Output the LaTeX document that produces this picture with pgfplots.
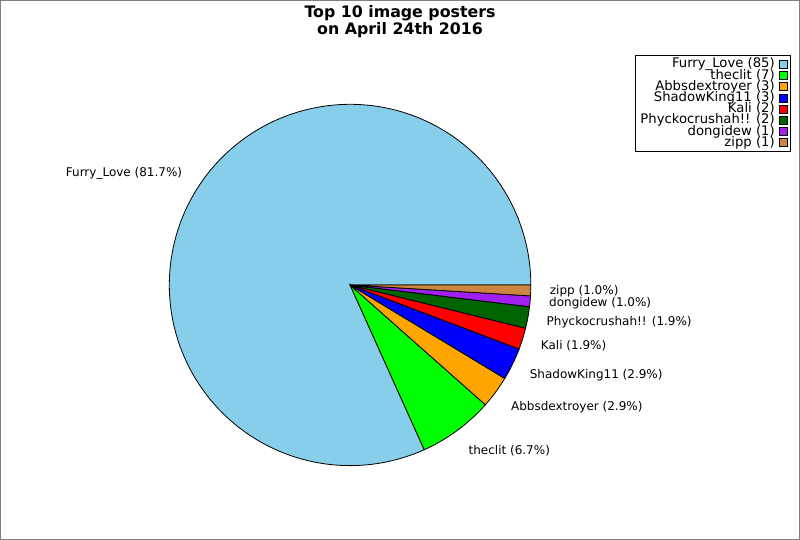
\documentclass[border=0pt]{standalone}
\usepackage{fontspec}
\setmainfont{DejaVu Sans}
\usepackage{pgfplots}
\pgfplotsset{compat=1.18}
\definecolor{c1}{HTML}{87CEEB}
\definecolor{c2}{HTML}{00FF00}
\definecolor{c3}{HTML}{FFA500}
\definecolor{c4}{HTML}{0000FF}
\definecolor{c5}{HTML}{FF0000}
\definecolor{c6}{HTML}{006400}
\definecolor{c7}{HTML}{A020F0}
\definecolor{c8}{HTML}{CD853F}
\newcommand{\lblfont}{\fontsize{12}{12}\selectfont}
\begin{document}
\begin{tikzpicture}
\begin{axis}[
  width=799pt, height=539pt, scale only axis,
  xmin=0, xmax=800, ymin=0, ymax=540,
  xtick=\empty, ytick=\empty,
  axis line style={draw=gray, line width=1pt},
  clip=false,
  legend plot pos=right,
  legend image code/.code={\draw[#1, draw=black, line width=0.8pt] (0pt,-4pt) rectangle (8pt,4pt);},
  legend style={at={(axis cs:791,485)}, anchor=north east, draw=black, line width=1pt,
    font=\fontsize{13.2}{11}\selectfont, cells={anchor=east}, inner xsep=2pt, inner ysep=3pt, row sep=0pt, column sep=2pt,
    nodes={inner xsep=2.5pt, inner ysep=0pt, text height=9pt, text depth=2.2pt}},
]
% counts: 85, 7, 3, 3, 2, 2, 1, 1 (total 104)
\addplot[fill=c1, draw=black, line width=0.8pt, domain={0}:{85*360/104}, samples=150, variable=\t]
  ({350+181*cos(t)},{255+181*sin(t)}) -- (axis cs:350,255) -- cycle;
\addlegendentry{Furry\_Love (85)}
\addplot[fill=c2, draw=black, line width=0.8pt, domain={85*360/104}:{92*360/104}, samples=20, variable=\t]
  ({350+181*cos(t)},{255+181*sin(t)}) -- (axis cs:350,255) -- cycle;
\addlegendentry{theclit (7)}
\addplot[fill=c3, draw=black, line width=0.8pt, domain={92*360/104}:{95*360/104}, samples=10, variable=\t]
  ({350+181*cos(t)},{255+181*sin(t)}) -- (axis cs:350,255) -- cycle;
\addlegendentry{Abbsdextroyer (3)}
\addplot[fill=c4, draw=black, line width=0.8pt, domain={95*360/104}:{98*360/104}, samples=10, variable=\t]
  ({350+181*cos(t)},{255+181*sin(t)}) -- (axis cs:350,255) -- cycle;
\addlegendentry{ShadowKing11 (3)}
\addplot[fill=c5, draw=black, line width=0.8pt, domain={98*360/104}:{100*360/104}, samples=8, variable=\t]
  ({350+181*cos(t)},{255+181*sin(t)}) -- (axis cs:350,255) -- cycle;
\addlegendentry{Kali (2)}
\addplot[fill=c6, draw=black, line width=0.8pt, domain={100*360/104}:{102*360/104}, samples=8, variable=\t]
  ({350+181*cos(t)},{255+181*sin(t)}) -- (axis cs:350,255) -- cycle;
\addlegendentry{Phyckocrushah!! (2)}
\addplot[fill=c7, draw=black, line width=0.8pt, domain={102*360/104}:{103*360/104}, samples=6, variable=\t]
  ({350+181*cos(t)},{255+181*sin(t)}) -- (axis cs:350,255) -- cycle;
\addlegendentry{dongidew (1)}
\addplot[fill=c8, draw=black, line width=0.8pt, domain={103*360/104}:{104*360/104}, samples=6, variable=\t]
  ({350+181*cos(t)},{255+181*sin(t)}) -- (axis cs:350,255) -- cycle;
\addlegendentry{zipp (1)}

\node[anchor=east, inner sep=0pt, font=\lblfont] at (axis cs:{350+200*cos(42.5*360/104)},{255+206*sin(42.5*360/104)}) {Furry\_Love (81.7\%)};
\node[anchor=west, inner sep=0pt, font=\lblfont] at (axis cs:{350+200*cos(88.5*360/104)},{255+206*sin(88.5*360/104)}) {theclit (6.7\%)};
\node[anchor=west, inner sep=0pt, font=\lblfont] at (axis cs:{350+200*cos(93.5*360/104)},{255+206*sin(93.5*360/104)}) {Abbsdextroyer (2.9\%)};
\node[anchor=west, inner sep=0pt, font=\lblfont] at (axis cs:{350+200*cos(96.5*360/104)},{255+206*sin(96.5*360/104)}) {ShadowKing11 (2.9\%)};
\node[anchor=west, inner sep=0pt, font=\lblfont] at (axis cs:{350+200*cos(99*360/104)},{255+206*sin(99*360/104)}) {Kali (1.9\%)};
\node[anchor=west, inner sep=0pt, font=\lblfont] at (axis cs:{350+200*cos(101*360/104)},{255+206*sin(101*360/104)}) {Phyckocrushah!! (1.9\%)};
\node[anchor=west, inner sep=0pt, font=\lblfont] at (axis cs:{350+200*cos(102.5*360/104)},{255+206*sin(102.5*360/104)}) {dongidew (1.0\%)};
\node[anchor=west, inner sep=0pt, font=\lblfont] at (axis cs:{350+200*cos(103.5*360/104)},{255+206*sin(103.5*360/104)}) {zipp (1.0\%)};

\node[anchor=north, align=center, inner sep=0pt, font=\fontsize{15.8}{14}\selectfont\bfseries] at (axis cs:400,535) {Top 10 image posters\\on April 24th 2016};
\end{axis}
\end{tikzpicture}
\end{document}
